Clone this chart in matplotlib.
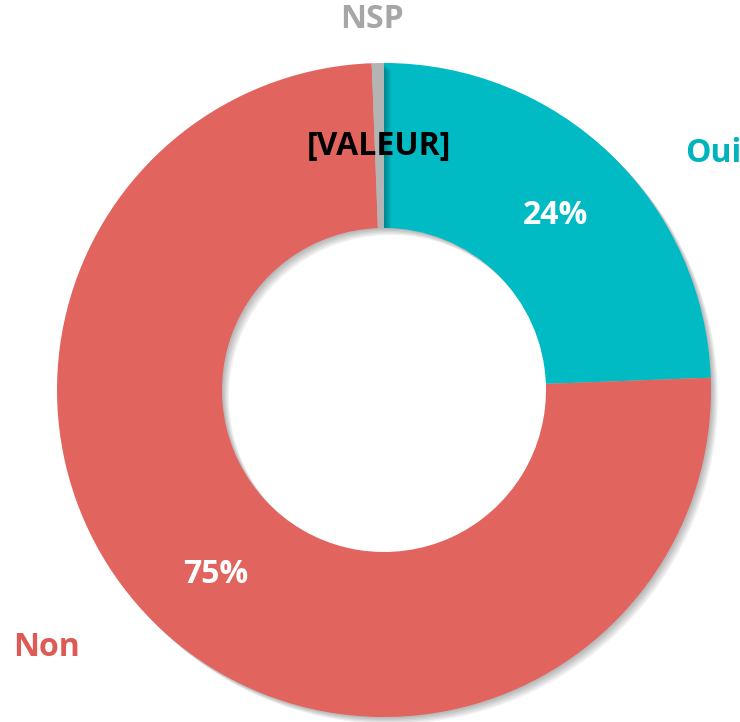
import matplotlib
matplotlib.use('Agg')
import matplotlib.pyplot as plt
import matplotlib.patheffects as pe
import numpy as np

# Share of answers (labels shown rounded)
categories = ["Oui", "Non", "NSP"]
values = [24.4, 75.0, 0.6]
value_labels = ["24%", "75%", "[VALEUR]"]
colors = ["#00BAC4", "#E1645E", "#B4B4B4"]
label_colors = ["#00B3BE", "#DE5A55", "#A6A6A6"]

W, H = 740, 722
CX, CY = 384, H - 390
R_OUT = 327
R_IN = 162

plt.rcParams['font.family'] = ['Open Sans', 'DejaVu Sans']

fig = plt.figure(figsize=(W / 100, H / 100), dpi=100)
ax = fig.add_axes([0, 0, 1, 1])

# soft shadow, offset down-right
shadow = [pe.SimplePatchShadow(offset=(k, -k), shadow_rgbFace='#000000', alpha=0.06)
          for k in (1, 2, 3, 4, 5)]

wedges, _ = ax.pie(values, colors=colors, startangle=90, counterclock=False,
                   center=(CX, CY), radius=R_OUT, frame=True,
                   wedgeprops=dict(width=R_OUT - R_IN, linewidth=0))
for w in wedges:
    w.set_path_effects(shadow + [pe.Normal()])
ax.set_xlim(0, W)
ax.set_ylim(0, H)
ax.set_aspect('equal')
ax.axis('off')

# value labels on the ring
r_mid = 247
for w, lab in zip(wedges, value_labels):
    ang = np.deg2rad((w.theta1 + w.theta2) / 2)
    tc = 'white' if lab != "[VALEUR]" else 'black'
    ax.text(CX + r_mid * np.cos(ang), CY + r_mid * np.sin(ang) - 3, lab,
            ha='center', va='center', fontsize=23, fontweight='bold', color=tc)

# category labels
cat_pos = {"Oui": (713, 153), "Non": (46, 648), "NSP": (372, 20)}
for cat, c in zip(categories, label_colors):
    x, y = cat_pos[cat]
    ax.text(x, H - y, cat, ha='center', va='center', fontsize=23,
            fontweight='bold', color=c)

plt.savefig('out.png', dpi=100)
plt.close()
